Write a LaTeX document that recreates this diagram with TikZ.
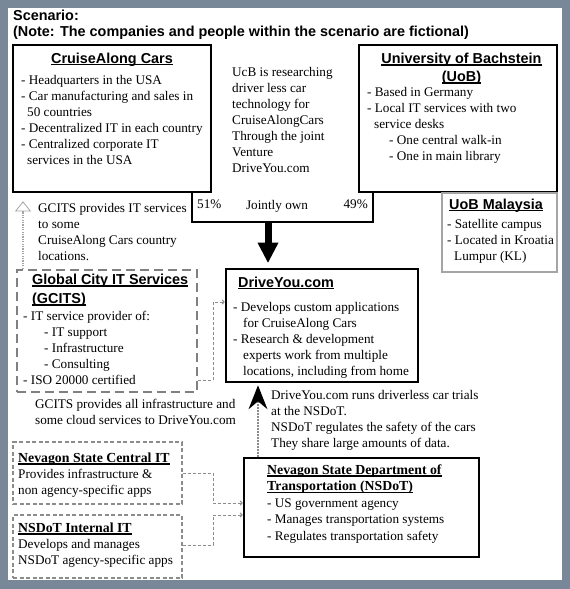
\documentclass[tikz,border=0pt]{standalone}
\usepackage{fontspec}
\setmainfont{Liberation Serif}
\newfontfamily\hdfont{Liberation Sans}
\usetikzlibrary{arrows.meta}
\definecolor{bgslate}{RGB}{120,136,153}
\definecolor{dgray}{RGB}{128,128,128}
\definecolor{mgray}{RGB}{140,140,140}
\definecolor{lgray}{RGB}{165,165,165}
\newsavebox\ulbox
\newcommand\myul[1]{\sbox\ulbox{#1}\rlap{\rule[-2.3pt]{\wd\ulbox}{1.1pt}}\usebox\ulbox}
\newcommand\bhf{\fontsize{13.8}{\the\baselineskip}\selectfont\bfseries}
\tikzset{
  hd/.style={font=\hdfont\bfseries\fontsize{14.4}{18}\selectfont, inner sep=0pt},
  hdml/.style={font=\hdfont\bfseries\fontsize{14.4}{#1}\selectfont, inner sep=0pt, align=center, anchor=north},
  body/.style={font=\fontsize{13.2}{16}\selectfont, align=left, inner sep=0pt, anchor=north west},
  bodyb/.style={font=\fontsize{13.2}{#1}\selectfont, align=left, inner sep=0pt, anchor=north west},
  thickbox/.style={draw=black, line width=2.6pt, inner sep=0pt},
  gcitsbox/.style={draw=dgray, line width=2.4pt, dash pattern=on 9pt off 5pt, inner sep=0pt},
  thinbox/.style={draw=mgray, line width=1.1pt, dash pattern=on 4pt off 2.5pt, inner sep=0pt},
  greybox/.style={draw=lgray, line width=1.4pt, inner sep=0pt},
  conn/.style={draw=mgray, line width=1pt, dash pattern=on 3pt off 2pt, -{To[length=3pt,width=5pt]}},
  joint/.style={draw=black, line width=2.5pt},
  bigarrow/.style={draw=black, line width=7pt, -{Triangle[length=20pt,width=21pt,line width=0pt]}},
  upfine/.style={draw=mgray, line width=1.3pt, dash pattern=on 1.5pt off 1.5pt, -{Stealth[length=24pt,width=19pt,inset=8pt,color=black,fill=black,line width=0pt]}},
  upopen/.style={draw=lgray, line width=2.2pt, dash pattern=on 1.2pt off 1.2pt, -{Triangle[open,length=10pt,width=16pt,line width=0.8pt]}}
}
\begin{document}
\begin{tikzpicture}[x=1pt,y=-1pt]
\useasboundingbox (0,0) rectangle (570,589);
\fill[bgslate] (0,0) rectangle (570,589);
\fill[white] (8,8) rectangle (562,580);

% title
\node[hd, anchor=base west] (t1) at (13,20) {Scenario:};
\node[hd, anchor=base west] (t2) at (13,36) {(Note: The companies and people within the scenario are fictional)};

% boxes
\node[thickbox, minimum width=198pt, minimum height=147pt] (ca) at (112,118.5) {};
\node[thickbox, minimum width=198pt, minimum height=147pt] (uob) at (458,118.5) {};
\node[greybox, minimum width=115pt, minimum height=79pt] (uobm) at (499.5,232.5) {};
\node[thickbox, minimum width=192pt, minimum height=113pt] (dy) at (322,325.5) {};
\node[gcitsbox, minimum width=180pt, minimum height=122pt] (gcits) at (107,331) {};
\node[thinbox, minimum width=169pt, minimum height=62pt] (nsci) at (97.5,473) {};
\node[thinbox, minimum width=169pt, minimum height=63pt] (nsii) at (97.5,546.5) {};
\node[thickbox, minimum width=235pt, minimum height=99pt] (nsdot) at (361.5,507.5) {};

% CruiseAlong
\node[hd, anchor=base] (catitle) at (112,63) {\myul{CruiseAlong Cars}};
\node[body] (cabody) at (21,72.8) {\strut- Headquarters in the USA\\
- Car manufacturing and sales in\\
\hspace*{6pt}50 countries\\
- Decentralized IT in each country\\
- Centralized corporate IT\\
\hspace*{6pt}services in the USA};

% UcB text
\node[body] (ucb) at (232,64.8) {\strut UcB is researching\\
driver less car\\
technology for\\
CruiseAlongCars\\
Through the joint\\
Venture\\
DriveYou.com};

% UoB
\node[hdml=18pt] (uobtitle) at (461.5,50.4) {\strut\myul{University of Bachstein}\\\myul{(UoB)}};
\node[body] (uobbody) at (367,84.8) {\strut- Based in Germany\\
- Local IT services with two\\
\hspace*{7pt}service desks\\
\hspace*{22pt}- One central walk-in\\
\hspace*{22pt}- One in main library};

% UoB Malaysia
\node[hd, anchor=base west] (uobmtitle) at (449,209) {\myul{UoB Malaysia}};
\node[body] (uobmbody) at (447,216.8) {\strut- Satellite campus\\
- Located in Kroatia\\
\hspace*{7pt}Lumpur (KL)};

% jointly own
\coordinate (jl) at (192,222);
\coordinate (jr) at (373,222);
\coordinate (ja) at (268,222);
\draw[joint] (ca.south -| jl) -- (jl) -- (jr) -- (uob.south -| jr);
\node[body, anchor=base west] (p51) at (197,208) {51\%};
\node[body, anchor=base] (jown) at (277,209) {Jointly own};
\node[body, anchor=base east] (p49) at (368,208) {49\%};
\draw[bigarrow] (ja) -- ([yshift=5pt]dy.north -| ja);

% GCITS
\node[body] (gtop) at (38,200.8) {\strut GCITS provides IT services\\
to some\\
CruiseAlong Cars country\\
locations.};
\node[hdml=19pt, align=left, anchor=north west] (gtitle) at (32,270.7) {\strut\myul{Global City IT Services}\\\myul{(GCITS)}};
\node[body] (gbody) at (23,308.8) {\strut- IT service provider of:\\
\hspace*{21pt}- IT support\\
\hspace*{21pt}- Infrastructure\\
\hspace*{21pt}- Consulting\\
- ISO 20000 certified};
\node[body] (gbot) at (35,396.8) {\strut GCITS provides all infrastructure and\\
some cloud services to DriveYou.com};

\coordinate (g1) at (23,0);
\draw[upopen] (gcits.north -| g1) -- ([yshift=-8pt]ca.south -| g1);
\coordinate (k1) at (213,380);
\coordinate (k2) at (213,302);
\draw[conn] (gcits.east |- k1) -- (k1) -- (k2) -- (dy.west |- k2);

% DriveYou
\node[hd, anchor=base west] (dytitle) at (238,287) {\myul{DriveYou.com}};
\node[body] (dybody) at (233,299.8) {\strut- Develops custom applications\\
\hspace*{10pt}for CruiseAlong Cars\\
- Research \& development\\
\hspace*{10pt}experts work from multiple\\
\hspace*{10pt}locations, including from home};

% trials text and arrow
\node[bodyb=16.2pt] (trial) at (271,387.7) {\strut DriveYou.com runs driverless car trials\\
at the NSDoT.\\
NSDoT regulates the safety of the cars\\
They share large amounts of data.};
\coordinate (n1) at (258,0);
\draw[upfine] (nsdot.north -| n1) -- ([yshift=-2pt]dy.south -| n1);

% Nevagon central IT
\node[body] (ncitext) at (18,450.8) {\strut{\bhf\myul{Nevagon State Central IT}}\\
Provides infrastructure \&\\
non agency-specific apps};
\node[body] (niitext) at (18,520.8) {\strut{\bhf\myul{NSDoT Internal IT}}\\
Develops and manages\\
NSDoT agency-specific apps};
\coordinate (m1) at (213,473);
\coordinate (m2) at (213,503);
\coordinate (m3) at (213,545);
\coordinate (m4) at (213,515);
\draw[conn] (nsci.east |- m1) -- (m1) -- (m2) -- (nsdot.west |- m2);
\draw[conn] (nsii.east |- m3) -- (m3) -- (m4) -- (nsdot.west |- m4);

% NSDoT
\node[bodyb=16.5pt] (nstext) at (267,462.5) {\strut{\bhf\myul{Nevagon State Department of}}\\
{\bhf\myul{Transportation (NSDoT)}}\\
- US government agency\\
- Manages transportation systems\\
- Regulates transportation safety};
\end{tikzpicture}
\end{document}
